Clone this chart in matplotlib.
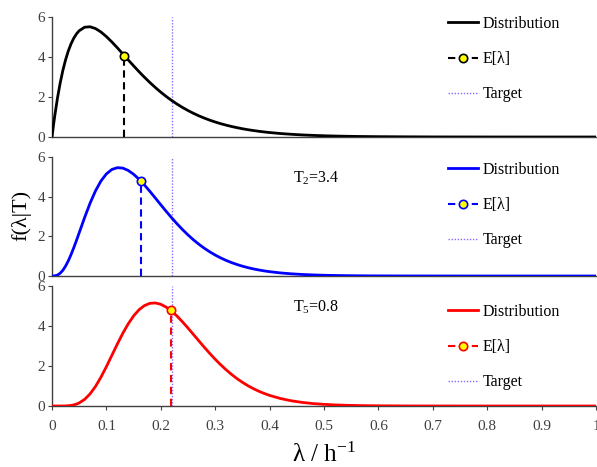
import numpy as np
import matplotlib
matplotlib.use('Agg')
import matplotlib.pyplot as plt

# Posterior densities (lambda grid in 1/h)
lam = [0, 0.0025, 0.005, 0.01, 0.015, 0.02, 0.025, 0.03, 0.035, 0.04, 0.045,
       0.05, 0.06, 0.07, 0.08, 0.09,
       0.10, 0.11, 0.12, 0.13, 0.14, 0.15, 0.16, 0.17, 0.18, 0.19,
       0.20, 0.21, 0.22, 0.23, 0.24, 0.25, 0.26, 0.27, 0.28, 0.29,
       0.30, 0.31, 0.32, 0.33, 0.34, 0.35, 0.36, 0.37, 0.38, 0.39,
       0.40, 0.42, 0.44, 0.46, 0.48, 0.50, 0.52, 0.54, 0.56, 0.58,
       0.60, 0.65, 0.70, 0.80, 0.90, 1.00]

dist_1 = [0, 0.542, 1.044, 1.937, 2.695, 3.334, 3.866, 4.304, 4.659, 4.939, 5.155,
          5.314, 5.489, 5.512, 5.421, 5.250,
          5.020, 4.753, 4.463, 4.161, 3.857, 3.557, 3.266, 2.987, 2.722, 2.473,
          2.240, 2.025, 1.826, 1.643, 1.475, 1.323, 1.184, 1.058, 0.945, 0.842,
          0.750, 0.667, 0.593, 0.526, 0.467, 0.413, 0.366, 0.324, 0.286, 0.253,
          0.223, 0.174, 0.135, 0.104, 0.081, 0.062, 0.048, 0.037, 0.028, 0.022,
          0.017, 0.009, 0.004, 0.001, 0.0, 0.0]

dist_2 = [0, 0.001, 0.007, 0.046, 0.138, 0.290, 0.502, 0.767, 1.078, 1.425, 1.796,
          2.180, 2.952, 3.672, 4.295, 4.791,
          5.149, 5.370, 5.461, 5.441, 5.324, 5.130, 4.878, 4.586, 4.265, 3.929,
          3.590, 3.256, 2.933, 2.626, 2.338, 2.070, 1.824, 1.601, 1.399, 1.218,
          1.056, 0.913, 0.787, 0.676, 0.580, 0.495, 0.422, 0.359, 0.305, 0.258,
          0.218, 0.155, 0.110, 0.077, 0.054, 0.037, 0.026, 0.018, 0.012, 0.008,
          0.006, 0.002, 0.001, 0.0, 0.0, 0.0]

dist_3 = [0, 0.0, 0.0, 0.0, 0.0, 0.002, 0.005, 0.014, 0.029, 0.055, 0.096,
          0.153, 0.332, 0.607, 0.981, 1.442,
          1.968, 2.530, 3.093, 3.627, 4.104, 4.504, 4.813, 5.022, 5.134, 5.152,
          5.085, 4.941, 4.739, 4.491, 4.204, 3.896, 3.576, 3.254, 2.936, 2.629,
          2.337, 2.064, 1.812, 1.581, 1.371, 1.185, 1.017, 0.870, 0.740, 0.628,
          0.530, 0.374, 0.260, 0.179, 0.121, 0.082, 0.054, 0.036, 0.024, 0.015,
          0.010, 0.003, 0.001, 0.0, 0.0, 0.0]

# Expected value markers (lambda, density)
mean_lam = [0.133, 0.164, 0.218]
mean_f = [4.06, 4.78, 4.80]

target = 0.22
notes = [None, 'T$_2$=3.4', 'T$_5$=0.8']

colors = ['black', '#0000ff', '#ff0000']
dists = [dist_1, dist_2, dist_3]

# Figure settings
TARGET_COLOR = '#8f6bff'
TICK_COLOR = '#404040'
AXIS_FONT_SIZE = 11
LEGEND_FONT_SIZE = 11.5
YLABEL_FONT_SIZE = 16
XLABEL_FONT_SIZE = 18

plt.rcParams['font.family'] = ['Liberation Serif', 'DejaVu Serif']
plt.rcParams['mathtext.fontset'] = 'custom'
plt.rcParams['mathtext.rm'] = 'Liberation Serif'
plt.rcParams['mathtext.it'] = 'Liberation Serif:italic'

W, H = 597, 467
fig = plt.figure(figsize=(W / 100, H / 100), dpi=100)

# axes boxes in pixels: (top, bottom)
boxes = [(17, 137), (157, 276), (286, 406)]
x_left, x_right = 52, 596
legend_tops = [16, 162, 304]

for i, (top, bot) in enumerate(boxes):
    ax = fig.add_axes([x_left / W, 1 - bot / H, (x_right - x_left) / W, (bot - top) / H])
    c = colors[i]

    ax.plot(lam, dists[i], color=c, lw=2.0, label='Distribution', zorder=3)
    ax.plot([mean_lam[i], mean_lam[i]], [0, mean_f[i]], color=c, lw=1.5,
            dashes=(3.5, 2.2), marker='o', markevery=[1], markersize=6,
            markerfacecolor='#ffff00', markeredgecolor=c, markeredgewidth=1.2,
            label='E[λ]', zorder=4)
    ax.plot([target, target], [0, 6], color=TARGET_COLOR, lw=1.0,
            linestyle=(0, (1, 1.2)), label='Target', zorder=2)

    if notes[i]:
        ax.text(0.443, 4.95, notes[i], fontsize=LEGEND_FONT_SIZE, va='center', ha='left')

    ax.set_xlim(0, 1)
    ax.set_ylim(0, 6)
    ax.set_yticks([0, 2, 4, 6])
    ax.spines['top'].set_visible(False)
    ax.spines['right'].set_visible(False)
    for s in ['left', 'bottom']:
        ax.spines[s].set_color(TICK_COLOR)
        ax.spines[s].set_linewidth(1.0)
    ax.tick_params(colors=TICK_COLOR, labelsize=AXIS_FONT_SIZE, length=3, width=0.8, pad=2)
    ax.set_facecolor('none')

    if i < 2:
        ax.tick_params(axis='x', bottom=False, labelbottom=False)
    else:
        ax.set_xticks(np.arange(0, 1.01, 0.1))
        ax.set_xticklabels(['0', '0.1', '0.2', '0.3', '0.4', '0.5', '0.6', '0.7', '0.8', '0.9', '1'])
        ax.tick_params(axis='x', pad=7)
        ax.set_xlabel('λ / h$^{-1}$', fontsize=XLABEL_FONT_SIZE, labelpad=7)

    leg_y = (bot - legend_tops[i]) / (bot - top)
    ax.legend(loc='upper left', bbox_to_anchor=((448 - x_left) / (x_right - x_left), leg_y),
              frameon=False, fontsize=LEGEND_FONT_SIZE, borderpad=0, borderaxespad=0,
              handlelength=1.9, handletextpad=0.25, labelspacing=1.2)

fig.text(21 / W, 1 - 215 / H, 'f(λ|T)', rotation=90, fontsize=YLABEL_FONT_SIZE,
         ha='center', va='center')

fig.savefig('out.png', dpi=100)
